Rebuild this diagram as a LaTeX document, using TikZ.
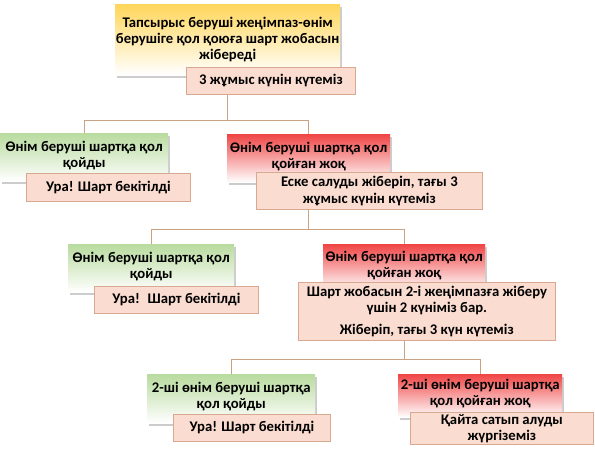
\documentclass[tikz,border=0pt]{standalone}
\usepackage{fontspec}
\setmainfont{Carlito}
\usetikzlibrary{shadows,backgrounds}
\definecolor{cardyel}{HTML}{FFD65A}
\definecolor{cardgrn}{HTML}{B8DB9E}
\definecolor{cardred}{HTML}{F04545}
\definecolor{notefill}{HTML}{FADCD0}
\definecolor{notebrd}{HTML}{D8A890}
\definecolor{linkclr}{HTML}{C9A284}
\newcommand{\cardfont}{\bfseries\fontsize{14.7}{16.2}\selectfont}
\newcommand{\lowpad}{\rule[-6pt]{0pt}{6pt}}
\begin{document}
\begin{tikzpicture}[x=1pt,y=-1pt,
  card/.style={anchor=north west, align=center, font=\cardfont, inner sep=0pt,
    drop shadow={shadow xshift=2pt, shadow yshift=-2.5pt, opacity=0.4}},
  yelcard/.style={card, top color=cardyel, bottom color=white},
  grncard/.style={card, top color=cardgrn, bottom color=white},
  redcard/.style={card, top color=cardred, bottom color=white},
  note/.style={anchor=north west, align=center, font=\cardfont, inner sep=0pt,
    draw=notebrd, fill=notefill, line width=0.8pt},
  link/.style={draw=linkclr, line width=0.9pt}]
\useasboundingbox (0,0) rectangle (595,450);
% first step
\node[yelcard, minimum width=225pt, minimum height=71pt] (top) at (115,4)
  {Тапсырыс беруші жеңімпаз-өнім\\берушіге қол қоюға шарт жобасын\\жібереді};
\node[note, minimum width=169pt, minimum height=27pt] (wait1) at (186,67)
  {3 жұмыс күнін күтеміз};
% second level
\node[grncard, minimum width=168pt, minimum height=48pt] (win1) at (0,133)
  {Өнім беруші шартқа қол\\қойды\lowpad};
\node[note, minimum width=164pt, minimum height=28pt] (yes1) at (26,173)
  {Ура! Шарт бекітілді};
\node[redcard, minimum width=163pt, minimum height=48pt] (lose1) at (227,134)
  {Өнім беруші шартқа қол\\қойған жоқ\lowpad};
\node[note, minimum width=226pt, minimum height=37pt] (remind) at (256,172)
  {Еске салуды жіберіп, тағы 3\\жұмыс күнін күтеміз};
% third level
\node[grncard, minimum width=166pt, minimum height=48pt] (win2) at (68,244)
  {Өнім беруші шартқа қол\\қойды\lowpad};
\node[note, minimum width=164pt, minimum height=27pt] (yes2) at (94,286)
  {Ура!~ Шарт бекітілді};
\node[redcard, minimum width=162pt, minimum height=46pt] (lose2) at (323,244)
  {Өнім беруші шартқа қол\\қойған жоқ\lowpad};
\node[note, minimum width=257pt, minimum height=58pt] (draft2) at (298,282)
  {Шарт жобасын 2-і жеңімпазға жіберу\\үшін 2 күніміз бар.\\[6pt]Жіберіп, тағы 3 күн күтеміз};
% fourth level
\node[grncard, minimum width=168pt, minimum height=49pt] (win3) at (147,374)
  {2-ші өнім беруші шартқа\\қол қойды\lowpad};
\node[note, minimum width=157pt, minimum height=27pt] (yes3) at (173,414)
  {Ура! Шарт бекітілді};
\node[redcard, minimum width=164pt, minimum height=43pt] (lose3) at (398,374)
  {2-ші өнім беруші шартқа\\қол қойған жоқ\lowpad};
\node[note, minimum width=183pt, minimum height=32pt] (rebuy) at (410,412)
  {Қайта сатып алуды\\жүргіземіз};
% connectors
\begin{scope}[on background layer]
\draw[link] (top.south) -- ++(0,45) coordinate (fork1) -| (win1.north);
\draw[link] (fork1) -| (lose1.north);
\draw[link] (lose1.south) -- ++(0,47) coordinate (fork2) -| (win2.north);
\draw[link] (fork2) -| (lose2.north);
\draw[link] (lose2.south) -- ++(0,69) coordinate (fork3) -| (win3.north);
\draw[link] (fork3) -| (lose3.north);
\end{scope}
\end{tikzpicture}
\end{document}
